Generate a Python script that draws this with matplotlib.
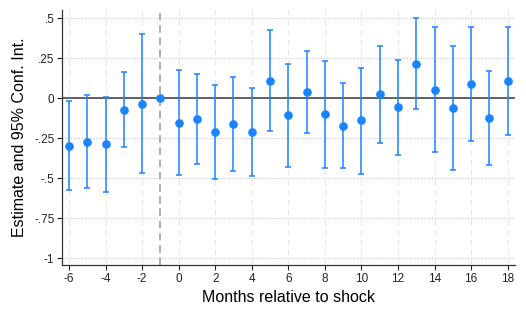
import matplotlib
matplotlib.use("Agg")
import matplotlib.pyplot as plt
import numpy as np

plt.rcParams['font.family'] = ['Liberation Sans', 'DejaVu Sans']
plt.rcParams['axes.unicode_minus'] = False

# event-time estimates (months relative to shock)
months = [-6, -5, -4, -3, -2, -1, 0, 1, 2, 3, 4, 5, 6, 7, 8, 9, 10, 11, 12, 13, 14, 15, 16, 17, 18]
estimate = [-0.298, -0.275, -0.285, -0.075, -0.035, 0.0, -0.154, -0.131, -0.21, -0.165, -0.21,
            0.11, -0.108, 0.038, -0.102, -0.173, -0.14, 0.023, -0.058, 0.215, 0.052, -0.06,
            0.088, -0.125, 0.108]
ci_upper = [-0.02, 0.017, 0.008, 0.165, 0.40, 0.0, 0.175, 0.15, 0.081, 0.129, 0.065,
            0.427, 0.215, 0.292, 0.233, 0.096, 0.19, 0.327, 0.238, 0.498, 0.446, 0.325,
            0.444, 0.171, 0.444]
ci_lower = [-0.575, -0.565, -0.585, -0.308, -0.469, 0.0, -0.483, -0.41, -0.504, -0.456, -0.485,
            -0.206, -0.429, -0.217, -0.435, -0.44, -0.473, -0.281, -0.354, -0.069, -0.34, -0.448,
            -0.269, -0.419, -0.229]

x_ticks = list(range(-6, 19, 2))
y_ticks = [0.5, 0.25, 0, -0.25, -0.5, -0.75, -1]
y_labels = ['.5', '.25', '0', '-.25', '-.5', '-.75', '-1']

blue = '#1a84ff'

fig = plt.figure(figsize=(5.26, 3.16), dpi=100)
ax = fig.add_axes([0.118, 0.161, 0.861, 0.807])

est = np.array(estimate)
lo = np.array(ci_lower)
hi = np.array(ci_upper)
m = np.array(months)
ci = m != -1  # reference month has no interval

ax.errorbar(m[ci], est[ci], yerr=[est[ci] - lo[ci], hi[ci] - est[ci]], fmt='none',
            ecolor=blue, elinewidth=1.1, capsize=2, capthick=1.1, zorder=3)
ax.plot(m, est, 'o', color=blue, markersize=5.2, zorder=4)

ax.axhline(0, color='#555555', lw=1.3, zorder=2)
ax.axvline(-1, color='#999999', lw=1.1, ls=(0, (5, 3)), zorder=2)

for yv in y_ticks:
    ax.axhline(yv, color='#c4c4c4', lw=0.8, ls=(0, (1, 1.5)), zorder=1)
for xv in x_ticks:
    ax.axvline(xv, color='#e8e8e8', lw=0.8, ls=(0, (5, 4)), zorder=1)

ax.set_xlim(-6.38, 18.4)
ax.set_ylim(-1.044, 0.55)
ax.set_xticks(x_ticks)
ax.set_yticks(y_ticks)
ax.set_yticklabels(y_labels)
ax.tick_params(labelsize=8.5, length=3.5, width=0.8, colors='#222222', pad=2)

for s in ['top', 'right']:
    ax.spines[s].set_visible(False)
for s in ['left', 'bottom']:
    ax.spines[s].set_color('#333333')
    ax.spines[s].set_linewidth(0.9)

ax.set_xlabel('Months relative to shock', fontsize=11.5, labelpad=4)
ax.set_ylabel('Estimate and 95% Conf. Int.', fontsize=11.5, labelpad=5)

fig.savefig('out.png', dpi=100)
